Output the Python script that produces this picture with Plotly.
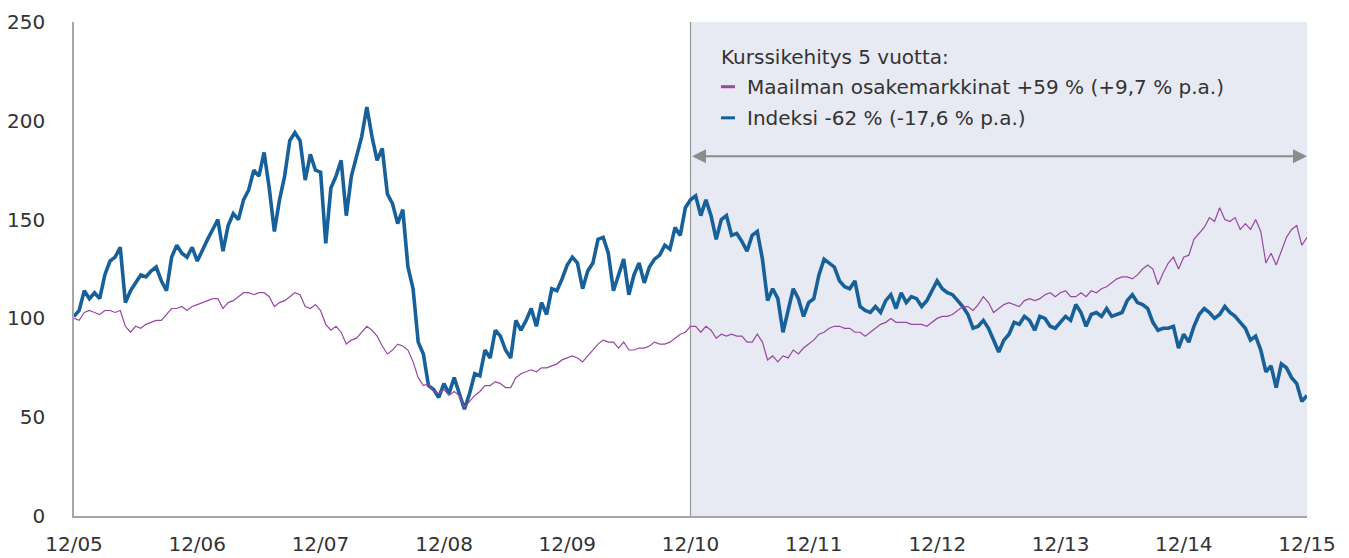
import pandas as pd
import plotly.graph_objects as go

# ---------------- data ----------------
tick_labels = ["12/05", "12/06", "12/07", "12/08", "12/09", "12/10",
               "12/11", "12/12", "12/13", "12/14", "12/15"]
tick_dates = [f"{y}-12-31" for y in range(2005, 2016)]

index_values = [
    101, 104, 114, 110, 113, 110, 122, 129, 131, 136, 108, 114, 118, 122, 121, 124, 126, 119, 114, 131, 137, 133, 131, 136, 129,
    135, 140, 145, 150, 134, 147, 153, 150, 160, 165, 175, 172, 184, 166, 144, 160, 172, 190, 194, 190, 170, 183, 175, 174,
    138, 166, 172, 180, 152, 172, 182, 192, 207, 192, 180, 186, 163, 158, 148, 155, 126, 115, 88, 82, 66, 64, 60, 67,
    62, 70, 62, 54, 62, 72, 71, 84, 80, 94, 91, 84, 80, 99, 94, 99, 105, 96, 108, 102, 115, 114, 120, 127,
    131, 128, 115, 124, 128, 140, 141, 133, 114, 122, 130, 112, 122, 128, 118, 126, 130, 132, 137, 135, 146, 142, 156, 160,
    162, 152, 160, 152, 140, 150, 152, 142, 143, 139, 134, 142, 144, 130, 109, 115, 110, 93, 104, 115, 110, 101, 108, 110,
    122, 130, 128, 126, 119, 116, 115, 119, 106, 104, 103, 106, 103, 109, 112, 105, 113, 108, 111, 110, 106, 109, 114, 119,
    115, 113, 112, 109, 106, 102, 95, 96, 99, 95, 89, 83, 89, 92, 98, 97, 101, 99, 94, 101, 100, 96, 95, 98,
    101, 99, 107, 103, 96, 102, 103, 101, 105, 101, 102, 103, 109, 112, 108, 107, 105, 98, 94, 95, 95, 96, 85, 92,
    88, 96, 102, 105, 103, 100, 102, 106, 103, 101, 98, 95, 89, 91, 84, 73, 76, 65, 77, 75, 70, 67, 58, 61,
]

world_values = [
    100, 99, 103, 104, 103, 102, 104, 104, 103, 104, 96, 93, 96, 95, 97, 98, 99, 99, 102, 105, 105, 106, 104, 106, 107,
    108, 109, 110, 110, 105, 108, 109, 111, 113, 113, 112, 113, 113, 111, 106, 108, 109, 111, 113, 112, 106, 105, 107, 104,
    97, 94, 96, 93, 87, 89, 90, 93, 96, 94, 91, 86, 82, 84, 87, 86, 84, 78, 70, 66, 67, 63, 62, 64,
    61, 63, 61, 55, 58, 61, 63, 66, 66, 68, 67, 65, 65, 70, 72, 73, 74, 73, 75, 75, 76, 77, 79, 80,
    81, 80, 78, 81, 84, 87, 89, 88, 88, 85, 88, 84, 84, 85, 85, 86, 88, 87, 87, 88, 90, 92, 93, 96,
    96, 93, 96, 94, 90, 92, 91, 92, 91, 91, 88, 88, 92, 88, 79, 81, 78, 81, 80, 84, 82, 85, 87, 89,
    92, 93, 95, 96, 96, 95, 95, 93, 93, 91, 93, 95, 97, 98, 100, 98, 98, 98, 97, 97, 97, 96, 98, 100,
    101, 101, 102, 104, 106, 106, 104, 107, 111, 108, 103, 105, 107, 108, 107, 106, 109, 110, 109, 110, 112, 113, 111, 113,
    114, 111, 111, 113, 111, 114, 113, 115, 116, 118, 120, 121, 121, 120, 122, 125, 127, 125, 117, 123, 128, 131, 125, 131,
    132, 140, 143, 146, 151, 149, 156, 150, 149, 151, 145, 148, 145, 150, 144, 128, 133, 127, 134, 141, 145, 147, 137, 141,
]

period_start = "2010-12-31"
period_end = "2015-12-31"
arrow_level = 182

title_text = "Kurssikehitys 5 vuotta:"
world_label = "Maailman osakemarkkinat +59 % (+9,7 % p.a.)"
index_label = "Indeksi -62 % (-17,6 % p.a.)"

# ---------------- figure ----------------
BLUE = "#17609a"
PURPLE = "#9648a3"
TEXT = "#333333"
FONT = "DejaVu Sans"

dates_idx = pd.date_range(tick_dates[0], tick_dates[-1], periods=len(index_values))
dates_w = pd.date_range(tick_dates[0], tick_dates[-1], periods=len(world_values))

fig = go.Figure()
fig.add_trace(go.Scatter(x=dates_idx, y=index_values, mode="lines",
                         line=dict(color=BLUE, width=3.6), name=index_label,
                         showlegend=False))
fig.add_trace(go.Scatter(x=dates_w, y=world_values, mode="lines",
                         line=dict(color=PURPLE, width=1.2), name=world_label,
                         showlegend=False))

# shaded 5-year window
fig.add_shape(type="rect", xref="x", yref="y domain", x0=period_start, x1=period_end,
              y0=0, y1=1, fillcolor="#e8eaf3", line=dict(width=0), layer="below")
fig.add_shape(type="line", xref="x", yref="y domain", x0=period_start, x1=period_start,
              y0=0, y1=1, line=dict(color="#9a9a9a", width=1.2), layer="below")

# double-headed arrow
fig.add_annotation(x=period_end, y=arrow_level, ax=period_start, ay=arrow_level,
                   xref="x", yref="y", axref="x", ayref="y", text="",
                   showarrow=True, arrowhead=2, arrowside="end+start",
                   arrowsize=1.4, arrowwidth=2, arrowcolor="#8c8c8c")

# legend-like text and colour keys
txt_font = dict(size=20, color=TEXT, family=FONT)
fig.add_annotation(xref="paper", yref="paper", x=0.5235, y=0.930, xanchor="left", yanchor="middle",
                   text=title_text, showarrow=False, font=txt_font)
fig.add_annotation(xref="paper", yref="paper", x=0.5445, y=0.869, xanchor="left", yanchor="middle",
                   text=world_label, showarrow=False, font=txt_font)
fig.add_annotation(xref="paper", yref="paper", x=0.5445, y=0.806, xanchor="left", yanchor="middle",
                   text=index_label, showarrow=False, font=txt_font)
fig.add_shape(type="line", xref="paper", yref="paper", x0=0.5247, x1=0.5361, y0=0.869, y1=0.869,
              line=dict(color=PURPLE, width=3))
fig.add_shape(type="line", xref="paper", yref="paper", x0=0.5247, x1=0.5361, y0=0.806, y1=0.806,
              line=dict(color=BLUE, width=3))

# the page adds an 8 px body margin, so the figure is sized/margined for that offset
fig.update_layout(
    width=1341, height=550,
    margin=dict(l=66, r=42, t=14, b=42),
    paper_bgcolor="white", plot_bgcolor="white",
    font=dict(family=FONT, color=TEXT, size=20),
    showlegend=False,
)
fig.update_xaxes(type="date", range=[tick_dates[0], tick_dates[-1]],
                 tickvals=tick_dates, ticktext=tick_labels, automargin=False,
                 showgrid=False, zeroline=False, showline=True,
                 linecolor="#a6a6a6", linewidth=1.5, ticks="",
                 ticklabelstandoff=9, tickfont=dict(size=20, color=TEXT, family=FONT))
fig.update_yaxes(range=[0, 250], tickvals=[0, 50, 100, 150, 200, 250], automargin=False,
                 showgrid=False, zeroline=False, showline=True,
                 linecolor="#a6a6a6", linewidth=1.5, ticks="",
                 ticklabelstandoff=23, tickfont=dict(size=20, color=TEXT, family=FONT))

fig.write_html("out.html")
